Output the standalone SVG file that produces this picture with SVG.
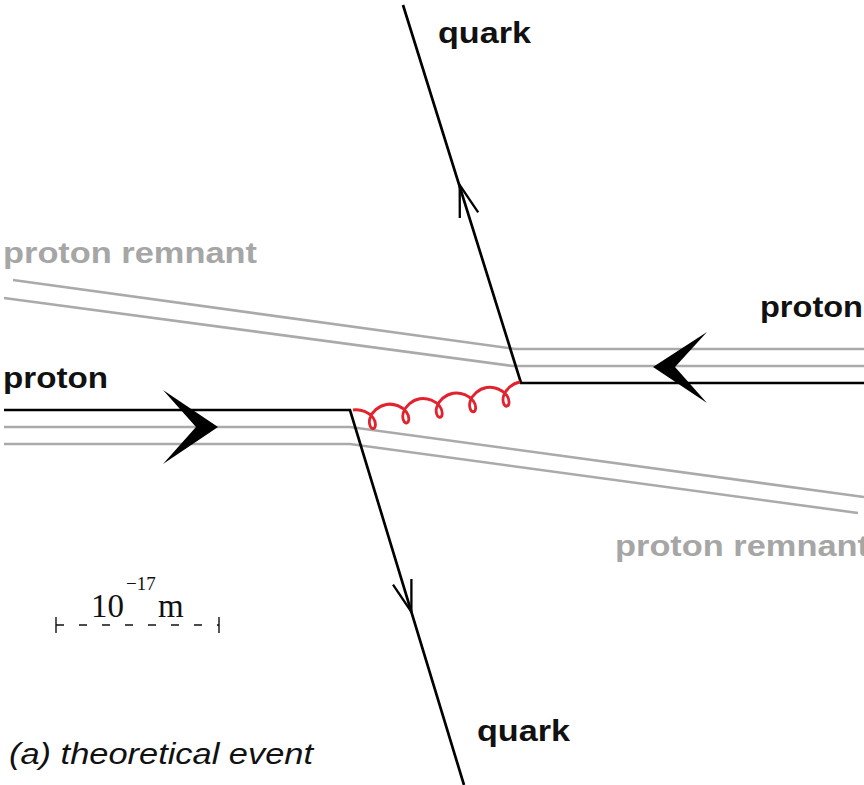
<svg xmlns="http://www.w3.org/2000/svg" width="864" height="785" viewBox="0 0 864 785">
<style>
.bg{fill:#ffffff}
.blk{fill:none;stroke:#000;stroke-width:2.7;stroke-linejoin:miter}
.gry{fill:none;stroke:#aaaaaa;stroke-width:2.6}
.glu{fill:none;stroke:#e2232e;stroke-width:2.8}
.head{fill:#000;stroke:none}
.open{fill:none;stroke:#000;stroke-width:2.3}
.lbl{font-family:"Liberation Sans",Arial,sans-serif;font-weight:bold;font-size:29px;fill:#111}
.rem{font-family:"Liberation Sans",Arial,sans-serif;font-weight:bold;font-size:29px;fill:#a6a6a6}
.cap{font-family:"Liberation Sans",Arial,sans-serif;font-style:italic;font-size:30px;fill:#111}
.ser{font-family:"Liberation Serif","Times New Roman",serif;fill:#111}
.scale{fill:none;stroke:#111;stroke-width:1.4}
</style>
<rect class="bg" x="0" y="0" width="864" height="785"/>
<g id="connectors">
  <path class="gry" d="M4,427 L350,427 L864,497"/>
  <path class="gry" d="M4,444 L350,444 L858,513"/>
  <path class="gry" d="M864,349 L515,349 L13,280"/>
  <path class="gry" d="M864,366 L513,366 L4,298"/>
  <path class="blk" d="M4,410 L350,410 L464,785"/>
  <path class="blk" d="M864,383 L521,383 L403,5"/>
  <path class="glu" transform="translate(353,410) rotate(-9.52) scale(1,1.08)" d="M0,0 c8.06,0 15.65,4.76 18.47,10 c2.82,5.24 0.87,10 -1.54,10 c-2.41,0 -4.35,-4.76 -1.53,-10 c2.82,-5.24 10.41,-10 18.47,-10 c8.06,0 15.65,4.76 18.47,10 c2.82,5.24 0.87,10 -1.54,10 c-2.41,0 -4.35,-4.76 -1.53,-10 c2.82,-5.24 10.41,-10 18.47,-10 c8.06,0 15.65,4.76 18.47,10 c2.82,5.24 0.87,10 -1.54,10 c-2.41,0 -4.35,-4.76 -1.53,-10 c2.82,-5.24 10.41,-10 18.47,-10 c8.06,0 15.65,4.76 18.47,10 c2.82,5.24 0.87,10 -1.54,10 c-2.41,0 -4.35,-4.76 -1.53,-10 c2.82,-5.24 10.41,-10 18.47,-10 c8.06,0 15.65,4.76 18.47,10 c2.82,5.24 0.87,10 -1.54,10 c-2.41,0 -4.35,-4.76 -1.53,-10 c2.82,-5.24 10.41,-10 18.47,-10"/>
  <path class="head" d="M218,427 L163,390 L196,427 L163,464 Z"/>
  <path class="head" d="M653,367 L707,332 L675,367 L707,403 Z"/>
  <path class="open" d="M459.8,218 L459.7,185 L478.2,212.3"/>
  <path class="open" d="M411.4,579 L411.4,612 L393,584.6"/>
</g>
<g id="quark-top"><text class="lbl" x="438" y="43" textLength="93" lengthAdjust="spacingAndGlyphs">quark</text></g>
<g id="quark-bottom"><text class="lbl" x="477" y="741" textLength="93" lengthAdjust="spacingAndGlyphs">quark</text></g>
<g id="proton-left"><text class="lbl" x="3" y="388" textLength="105" lengthAdjust="spacingAndGlyphs">proton</text></g>
<g id="proton-right"><text class="lbl" x="760" y="317" textLength="103" lengthAdjust="spacingAndGlyphs">proton</text></g>
<g id="remnant-top"><text class="rem" x="3" y="263" textLength="254" lengthAdjust="spacingAndGlyphs">proton remnant</text></g>
<g id="remnant-bottom"><text class="rem" x="615" y="556" textLength="254" lengthAdjust="spacingAndGlyphs">proton remnant</text></g>
<g id="scale">
  <text class="ser" x="91" y="617" font-size="33">10</text>
  <text class="ser" x="126" y="590" font-size="19">−17</text>
  <text class="ser" x="158" y="617" font-size="33">m</text>
  <line class="scale" x1="56" y1="625" x2="219" y2="625" stroke-dasharray="8 15"/>
  <line class="scale" x1="56" y1="617" x2="56" y2="633"/>
  <line class="scale" x1="219" y1="617" x2="219" y2="633"/>
</g>
<g id="caption"><text class="cap" x="9" y="764" textLength="304" lengthAdjust="spacingAndGlyphs">(a) theoretical event</text></g>
</svg>
